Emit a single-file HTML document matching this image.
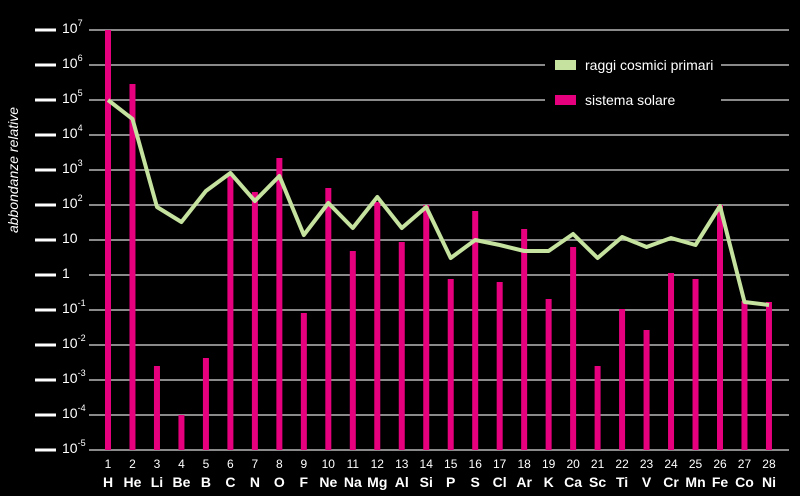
<!DOCTYPE html>
<html><head><meta charset="utf-8"><style>
html,body{margin:0;padding:0;background:#000;}
svg{display:block;font-family:"Liberation Sans",sans-serif;}
</style></head><body>
<svg width="800" height="496" viewBox="0 0 800 496" xmlns="http://www.w3.org/2000/svg">
<rect width="800" height="496" fill="#000"/>
<g id="grid" stroke="#8a8a8a" stroke-width="2">
<line x1="89" x2="789" y1="30" y2="30"/><line x1="89" x2="789" y1="65" y2="65"/><line x1="89" x2="789" y1="100" y2="100"/>
<line x1="89" x2="789" y1="135" y2="135"/><line x1="89" x2="789" y1="170" y2="170"/><line x1="89" x2="789" y1="205" y2="205"/>
<line x1="89" x2="789" y1="240" y2="240"/><line x1="89" x2="789" y1="275" y2="275"/><line x1="89" x2="789" y1="310" y2="310"/>
<line x1="89" x2="789" y1="345" y2="345"/><line x1="89" x2="789" y1="380" y2="380"/><line x1="89" x2="789" y1="415" y2="415"/>
<line x1="89" x2="789" y1="450" y2="450"/>
</g>
<g stroke="#fff" stroke-width="3">
<line x1="35" x2="56" y1="30" y2="30"/><line x1="35" x2="56" y1="65" y2="65"/><line x1="35" x2="56" y1="100" y2="100"/>
<line x1="35" x2="56" y1="135" y2="135"/><line x1="35" x2="56" y1="170" y2="170"/><line x1="35" x2="56" y1="205" y2="205"/>
<line x1="35" x2="56" y1="240" y2="240"/><line x1="35" x2="56" y1="275" y2="275"/><line x1="35" x2="56" y1="310" y2="310"/>
<line x1="35" x2="56" y1="345" y2="345"/><line x1="35" x2="56" y1="380" y2="380"/><line x1="35" x2="56" y1="415" y2="415"/>
<line x1="35" x2="56" y1="450" y2="450"/>
</g>
<g fill="#fff" font-size="14">
<text x="62" y="33">10<tspan font-size="9" dy="-7">7</tspan></text>
<text x="62" y="68">10<tspan font-size="9" dy="-7">6</tspan></text>
<text x="62" y="103">10<tspan font-size="9" dy="-7">5</tspan></text>
<text x="62" y="138">10<tspan font-size="9" dy="-7">4</tspan></text>
<text x="62" y="173">10<tspan font-size="9" dy="-7">3</tspan></text>
<text x="62" y="208">10<tspan font-size="9" dy="-7">2</tspan></text>
<text x="62" y="243">10</text>
<text x="62" y="278">1</text>
<text x="62" y="313">10<tspan font-size="9" dy="-7">-1</tspan></text>
<text x="62" y="348">10<tspan font-size="9" dy="-7">-2</tspan></text>
<text x="62" y="383">10<tspan font-size="9" dy="-7">-3</tspan></text>
<text x="62" y="418">10<tspan font-size="9" dy="-7">-4</tspan></text>
<text x="62" y="453">10<tspan font-size="9" dy="-7">-5</tspan></text>
</g>
<text transform="translate(18,170) rotate(-90)" text-anchor="middle" fill="#fff" font-size="14" font-style="italic">abbondanze relative</text>
<rect x="545" y="50" width="176" height="65" fill="#000"/>
<rect x="555" y="60" width="21" height="10" fill="#c5e29f"/>
<rect x="555" y="95" width="21" height="10" fill="#e6007e"/>
<text x="585" y="70" fill="#fff" font-size="14">raggi cosmici primari</text>
<text x="585" y="105" fill="#fff" font-size="14">sistema solare</text>
<g fill="#e6007e" id="bars"></g>
<polyline id="line" fill="none" stroke="#c5e29f" stroke-width="4" stroke-linejoin="round"/>
<g id="labs" fill="#fff" text-anchor="middle"></g>
</svg>
<script>
var tops=[30,84,366,415,358,175,192,158,313,188,251,202,242,205,279,211,282,229,299,247,366,309,330,273,279,205,301,302];
var ln=[100,119,207,222,191,173,201,176,235,203,228,197,228,207,258,240,245,251,251,234,258,237,247,238,245,206,302,305];
var sym=["H","He","Li","Be","B","C","N","O","F","Ne","Na","Mg","Al","Si","P","S","Cl","Ar","K","Ca","Sc","Ti","V","Cr","Mn","Fe","Co","Ni"];
var ns="http://www.w3.org/2000/svg",b=document.getElementById("bars"),l=document.getElementById("labs"),pts=[];
for(var i=0;i<28;i++){var x=108+i*24.48;
var r=document.createElementNS(ns,"rect");r.setAttribute("x",x-3);r.setAttribute("y",tops[i]);r.setAttribute("width",6);r.setAttribute("height",450-tops[i]);b.appendChild(r);
pts.push(x.toFixed(1)+","+ln[i]);
var t=document.createElementNS(ns,"text");t.setAttribute("x",x);t.setAttribute("y",468);t.setAttribute("font-size","12");t.textContent=i+1;l.appendChild(t);
var s=document.createElementNS(ns,"text");s.setAttribute("x",x);s.setAttribute("y",487);s.setAttribute("font-size","14");s.setAttribute("font-weight","bold");s.textContent=sym[i];l.appendChild(s);}
document.getElementById("line").setAttribute("points",pts.join(" "));
</script>
</body></html>
